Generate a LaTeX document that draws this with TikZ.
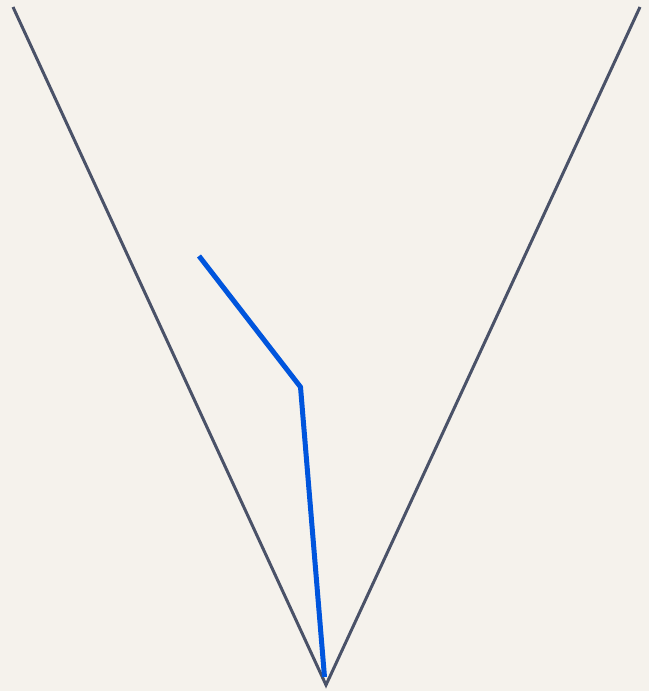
\documentclass[tikz,border=0pt]{standalone}
\definecolor{bg}{HTML}{F5F2EC}
\definecolor{vgray}{HTML}{4A5268}
\definecolor{vblue}{HTML}{0055DD}
\tikzset{
  vline/.style={draw=vgray, line width=3pt, line join=miter},
  bluepath/.style={draw=vblue, line width=5pt, line join=miter}
}
\begin{document}
\begin{tikzpicture}[x=1pt,y=-1pt]
\fill[bg] (0,0) rectangle (649,691);
\useasboundingbox (0,0) rectangle (649,691);
\coordinate (tl) at (13,7);
\coordinate (tr) at (640,7);
\coordinate (bot) at (326,685);
\coordinate (b1) at (199,256);
\coordinate (b2) at (300.5,387);
\coordinate (b3) at (324.5,677);
\draw[vline] (tl) -- (bot) -- (tr);
\draw[bluepath] (b1) -- (b2) -- (b3);
\end{tikzpicture}
\end{document}
